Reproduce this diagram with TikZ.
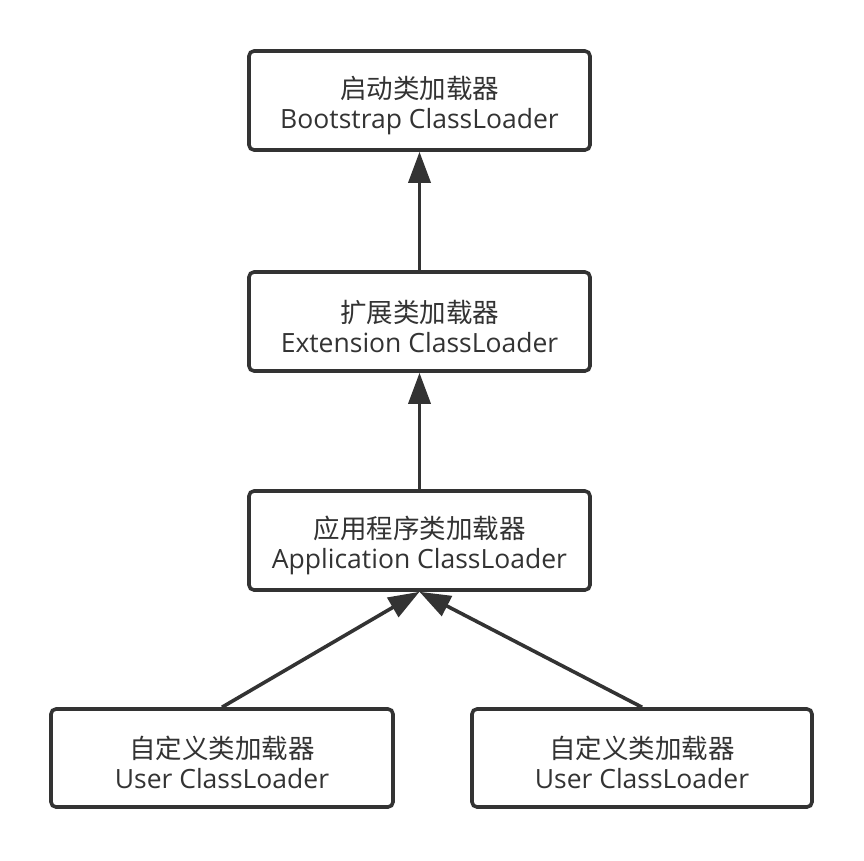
\documentclass[tikz,border=0pt]{standalone}
\usepackage{fontspec}
\setmainfont{Open Sans}
\newfontfamily\cjk{Noto Sans CJK SC}
\usetikzlibrary{arrows.meta}
\definecolor{ink}{HTML}{333333}
\newcommand{\lowerstrut}{\rule{0pt}{32pt}}
\begin{document}
\begin{tikzpicture}[x=1pt,y=-1pt,
  box/.style={draw=ink, line width=3.6pt, rounded corners=5pt, fill=white,
    align=center, text=ink, font=\fontsize{26.5}{30}\selectfont, inner sep=0pt},
  arr/.style={draw=ink, line width=3.6pt, -{Triangle[length=31pt,width=22pt]}}]
\useasboundingbox (0,0) rectangle (864,860);
\node[box, minimum width=341pt, minimum height=99pt] (b1) at (419.5,100.5)
  {\lowerstrut{\cjk 启动类加载器}\\Bootstrap ClassLoader};
\node[box, minimum width=341pt, minimum height=99pt] (b2) at (419.5,321.5)
  {\lowerstrut{\cjk 扩展类加载器}\\Extension ClassLoader};
\node[box, minimum width=341pt, minimum height=99pt] (b3) at (419.5,540.5)
  {\lowerstrut{\cjk 应用程序类加载器}\\Application ClassLoader};
\node[box, minimum width=342pt, minimum height=98pt] (b4) at (222,758)
  {\lowerstrut{\cjk 自定义类加载器}\\User ClassLoader};
\node[box, minimum width=340pt, minimum height=98pt] (b5) at (642,758)
  {\lowerstrut{\cjk 自定义类加载器}\\User ClassLoader};
\draw[arr] (b2.north) -- (b1.south);
\draw[arr] (b3.north) -- (b2.south);
\draw[arr] (b4.north) -- (b3.south);
\draw[arr] (b5.north) -- (b3.south);
\end{tikzpicture}
\end{document}
